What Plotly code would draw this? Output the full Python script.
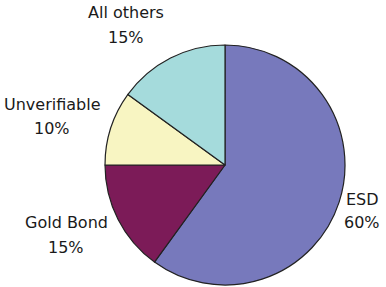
import plotly.graph_objects as go

labels = ["ESD", "Gold Bond", "Unverifiable", "All others"]
values = [60, 15, 10, 15]
colors = ["#7779BC", "#7C1B58", "#F8F5C2", "#A5DBDC"]

# label anchor positions in pixels (center x, first-line center y)
label_pos = {
    "ESD": (362, 199),
    "Gold Bond": (66, 223),
    "Unverifiable": (52, 104),
    "All others": (126, 13),
}
LINE_GAP = 24

W, H = 386, 287
fig = go.Figure(go.Pie(
    labels=labels,
    values=values,
    marker=dict(colors=colors, line=dict(color="#222222", width=1.2)),
    sort=False,
    direction="clockwise",
    rotation=0,
    textinfo="none",
    hoverinfo="label+percent",
    domain=dict(x=[105 / W, 345 / W], y=[1 - 285 / H, 1 - 45 / H]),
    showlegend=False,
))

total = sum(values)
font = dict(family="DejaVu Sans, sans-serif", size=16, color="#1a1a1a")
for lab, val in zip(labels, values):
    px, py = label_pos[lab]
    for i, line in enumerate([lab, f"{round(100 * val / total)}%"]):
        fig.add_annotation(
            x=px / W, y=1 - (py + i * LINE_GAP) / H, xref="paper", yref="paper",
            text=line, showarrow=False, font=font,
            xanchor="center", yanchor="middle",
        )

fig.update_layout(
    width=W, height=H,
    margin=dict(l=0, r=0, t=0, b=0),
    paper_bgcolor="white",
    plot_bgcolor="white",
)

fig.write_html("out.html", config={"displayModeBar": False},
               post_script="document.body.style.margin='0';")
